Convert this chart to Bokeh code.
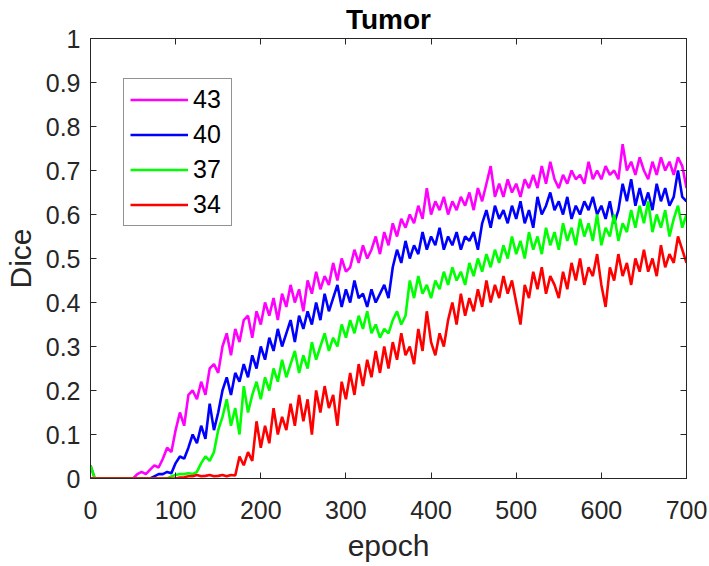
from bokeh.plotting import figure
from bokeh.models import (FixedTicker, LinearAxis, Legend, LegendItem, Range1d,
                          ColumnDataSource, CustomLabelingPolicy)
from bokeh.embed import file_html
from bokeh.resources import INLINE

epochs = list(range(0, 701, 5))

dice_43 = [
    0.03, 0.0, 0.0, 0.0, 0.0, 0.0, 0.0, 0.0, 0.0, 0.0,
    0.0, 0.01, 0.015, 0.01, 0.02, 0.03, 0.025, 0.045, 0.07, 0.06,
    0.11, 0.15, 0.12, 0.19, 0.20, 0.18, 0.22, 0.19, 0.25, 0.26,
    0.24, 0.30, 0.33, 0.28, 0.34, 0.31, 0.36, 0.37, 0.32, 0.38,
    0.35, 0.40, 0.37, 0.41, 0.36, 0.42, 0.39, 0.44, 0.40, 0.43,
    0.38, 0.45, 0.42, 0.47, 0.43, 0.46, 0.44, 0.49, 0.45, 0.50,
    0.47, 0.48, 0.52, 0.49, 0.53, 0.50, 0.52, 0.55, 0.51, 0.56,
    0.53, 0.58, 0.55, 0.59, 0.57, 0.60, 0.58, 0.62, 0.59, 0.66,
    0.60, 0.63, 0.61, 0.64, 0.60, 0.63, 0.61, 0.64, 0.62, 0.65,
    0.61, 0.66, 0.63, 0.67, 0.71, 0.64, 0.67, 0.64, 0.68, 0.65,
    0.67, 0.64, 0.68, 0.66, 0.69, 0.66, 0.71, 0.67, 0.72, 0.68,
    0.66, 0.69, 0.67, 0.70, 0.68, 0.69, 0.67, 0.72, 0.68, 0.70,
    0.68, 0.71, 0.69, 0.70, 0.68, 0.76, 0.70, 0.72, 0.69, 0.73,
    0.70, 0.68, 0.72, 0.69, 0.73, 0.70, 0.72, 0.69, 0.73, 0.71,
    0.66,
]

dice_40 = [
    0.0, 0.0, 0.0, 0.0, 0.0, 0.0, 0.0, 0.0, 0.0, 0.0,
    0.0, 0.0, 0.0, 0.0, 0.0, 0.005, 0.01, 0.01, 0.015, 0.012,
    0.035, 0.05, 0.045, 0.07, 0.10, 0.08, 0.12, 0.09, 0.17, 0.11,
    0.15, 0.20, 0.23, 0.19, 0.24, 0.22, 0.26, 0.23, 0.28, 0.25,
    0.30, 0.27, 0.32, 0.29, 0.34, 0.30, 0.33, 0.36, 0.31, 0.37,
    0.34, 0.38, 0.35, 0.40, 0.36, 0.42, 0.38, 0.41, 0.44, 0.39,
    0.43, 0.40, 0.45, 0.41, 0.42, 0.39, 0.43, 0.40, 0.42, 0.44,
    0.41, 0.48, 0.52, 0.49, 0.54, 0.50, 0.53, 0.51, 0.56, 0.52,
    0.55, 0.53, 0.57, 0.52, 0.55, 0.53, 0.56, 0.52, 0.55, 0.54,
    0.56, 0.52, 0.58, 0.61, 0.57, 0.62, 0.59, 0.61, 0.58, 0.62,
    0.59, 0.63, 0.58, 0.61, 0.57, 0.64, 0.60, 0.62, 0.65, 0.61,
    0.63, 0.60, 0.64, 0.59, 0.62, 0.60, 0.63, 0.61, 0.64, 0.60,
    0.62, 0.59, 0.63, 0.58, 0.61, 0.67, 0.63, 0.68, 0.62, 0.66,
    0.62, 0.65, 0.61, 0.67, 0.63, 0.66, 0.62, 0.64, 0.70, 0.64,
    0.63,
]

dice_37 = [
    0.03, 0.0, 0.0, 0.0, 0.0, 0.0, 0.0, 0.0, 0.0, 0.0,
    0.0, 0.0, 0.0, 0.0, 0.0, 0.0, 0.0, 0.0, 0.0, 0.005,
    0.008, 0.01, 0.01, 0.012, 0.01, 0.015, 0.035, 0.05, 0.04, 0.06,
    0.11, 0.14, 0.18, 0.12, 0.16, 0.10, 0.21, 0.15, 0.19, 0.22,
    0.18, 0.23, 0.20, 0.25, 0.22, 0.27, 0.23, 0.26, 0.29, 0.24,
    0.28, 0.25, 0.31, 0.27, 0.30, 0.33, 0.29, 0.32, 0.30, 0.35,
    0.32, 0.36, 0.33, 0.37, 0.34, 0.38, 0.33, 0.35, 0.32, 0.34,
    0.33, 0.36, 0.38, 0.35, 0.37, 0.45, 0.41, 0.46, 0.42, 0.44,
    0.41, 0.45, 0.43, 0.47, 0.44, 0.48, 0.45, 0.47, 0.44, 0.49,
    0.46, 0.50, 0.47, 0.51, 0.48, 0.52, 0.49, 0.53, 0.50, 0.55,
    0.51, 0.54, 0.50, 0.56, 0.52, 0.55, 0.51, 0.57, 0.53, 0.56,
    0.52, 0.58, 0.54, 0.57, 0.53, 0.59, 0.55, 0.58, 0.54, 0.60,
    0.53, 0.57, 0.55, 0.60, 0.54, 0.58, 0.56, 0.61, 0.57, 0.62,
    0.58, 0.63, 0.56, 0.60, 0.57, 0.61, 0.55, 0.59, 0.62, 0.57,
    0.60,
]

dice_34 = [
    0.0, 0.0, 0.0, 0.0, 0.0, 0.0, 0.0, 0.0, 0.0, 0.0,
    0.0, 0.0, 0.0, 0.0, 0.0, 0.0, 0.0, 0.0, 0.0, 0.0,
    0.0, 0.002, 0.003, 0.005, 0.005, 0.008, 0.005, 0.006, 0.008, 0.005,
    0.006, 0.008, 0.005, 0.008, 0.007, 0.05, 0.03, 0.06, 0.04, 0.13,
    0.07, 0.12, 0.08, 0.16, 0.10, 0.14, 0.11, 0.17, 0.12, 0.19,
    0.13, 0.18, 0.10, 0.20, 0.15, 0.21, 0.16, 0.19, 0.12, 0.22,
    0.18, 0.24, 0.19, 0.26, 0.21, 0.27, 0.23, 0.29, 0.24, 0.30,
    0.25, 0.31, 0.27, 0.33, 0.28, 0.30, 0.26, 0.34, 0.29, 0.38,
    0.31, 0.28, 0.33, 0.30, 0.36, 0.40, 0.35, 0.42, 0.37, 0.41,
    0.38, 0.43, 0.39, 0.45, 0.40, 0.44, 0.41, 0.46, 0.42, 0.45,
    0.40, 0.35, 0.44, 0.41, 0.47, 0.43, 0.48, 0.42, 0.46, 0.44,
    0.41, 0.47, 0.43, 0.49, 0.45, 0.50, 0.44, 0.48, 0.46, 0.51,
    0.44, 0.39, 0.48, 0.45, 0.51, 0.46, 0.49, 0.44, 0.50, 0.47,
    0.52, 0.47, 0.50, 0.46, 0.53, 0.48, 0.51, 0.49, 0.55, 0.52,
    0.49,
]

series_labels = ["43", "40", "37", "34"]
series_colors = ["#FF00FF", "#0000FF", "#00FF00", "#FF0000"]
x_ticks = [0, 100, 200, 300, 400, 500, 600, 700]
y_ticks = [0, 0.1, 0.2, 0.3, 0.4, 0.5, 0.6, 0.7, 0.8, 0.9, 1]

# ---------------- figure ----------------
FONT = "Liberation Sans"
AX = "#262626"

p = figure(
    frame_width=596, frame_height=440,
    min_border_left=90, min_border_right=23, min_border_top=38, min_border_bottom=86,
    x_range=Range1d(0, 700), y_range=Range1d(0, 1),
    output_backend="svg", toolbar_location=None,
    title="Tumor",
)
p.title.align = "center"
p.title.text_font = FONT
p.title.text_font_size = "28px"
p.title.text_font_style = "bold"
p.title.text_color = "#000000"
p.title.standoff = 0
p.title.offset = 0

p.grid.visible = False
p.outline_line_color = AX
p.outline_line_width = 1
p.background_fill_color = "white"
p.border_fill_color = "white"

for ax in (p.xaxis[0], p.yaxis[0]):
    ax.axis_line_color = AX
    ax.major_tick_line_color = AX
    ax.major_tick_in = 6
    ax.major_tick_out = 0
    ax.minor_tick_line_color = None
    ax.major_label_text_font = FONT
    ax.major_label_text_font_size = "25px"
    ax.major_label_text_color = AX
    ax.axis_label_text_font = FONT
    ax.axis_label_text_font_size = "30px"
    ax.axis_label_text_font_style = "normal"
    ax.axis_label_text_color = AX

p.xaxis.ticker = FixedTicker(ticks=x_ticks)
p.yaxis.ticker = FixedTicker(ticks=y_ticks)
p.yaxis.major_label_overrides = {0: "0", 1: "1"}
p.xaxis.axis_label = "epoch"
p.yaxis.axis_label = "Dice"
p.xaxis.major_label_standoff = 22
p.yaxis.major_label_standoff = 10
p.xaxis.axis_label_standoff = 7
p.yaxis.axis_label_standoff = 6

# mirrored box ticks (right and top), no labels
for ax_ticks, side in ((y_ticks, "right"), (x_ticks, "above")):
    ax = LinearAxis(ticker=FixedTicker(ticks=ax_ticks))
    ax.axis_line_color = AX
    ax.major_tick_line_color = AX
    ax.major_tick_in = 6
    ax.major_tick_out = 0
    ax.minor_tick_line_color = None
    ax.major_label_text_font_size = "1px"
    ax.major_label_standoff = 0
    ax.major_label_policy = CustomLabelingPolicy(code="return []")
    p.add_layout(ax, side)

all_series = [dice_43, dice_40, dice_37, dice_34]
items = []
for vals, lab, col in zip(all_series, series_labels, series_colors):
    src = ColumnDataSource(dict(x=epochs, y=vals))
    r = p.line("x", "y", source=src, line_color=col, line_width=2.6)
    items.append(LegendItem(label=lab, renderers=[r]))

legend = Legend(items=items, location=(33, 252))
legend.label_text_font = FONT
legend.label_text_font_size = "25px"
legend.label_text_color = "#000000"
legend.glyph_width = 58
legend.glyph_height = 29
legend.label_height = 29
legend.label_width = 32
legend.spacing = 6
legend.padding = 6
legend.margin = 0
legend.label_standoff = 5
legend.border_line_color = AX
legend.border_line_width = 1
legend.background_fill_color = "white"
legend.background_fill_alpha = 1.0
p.add_layout(legend)

open("out.html", "w").write(file_html(p, INLINE))
